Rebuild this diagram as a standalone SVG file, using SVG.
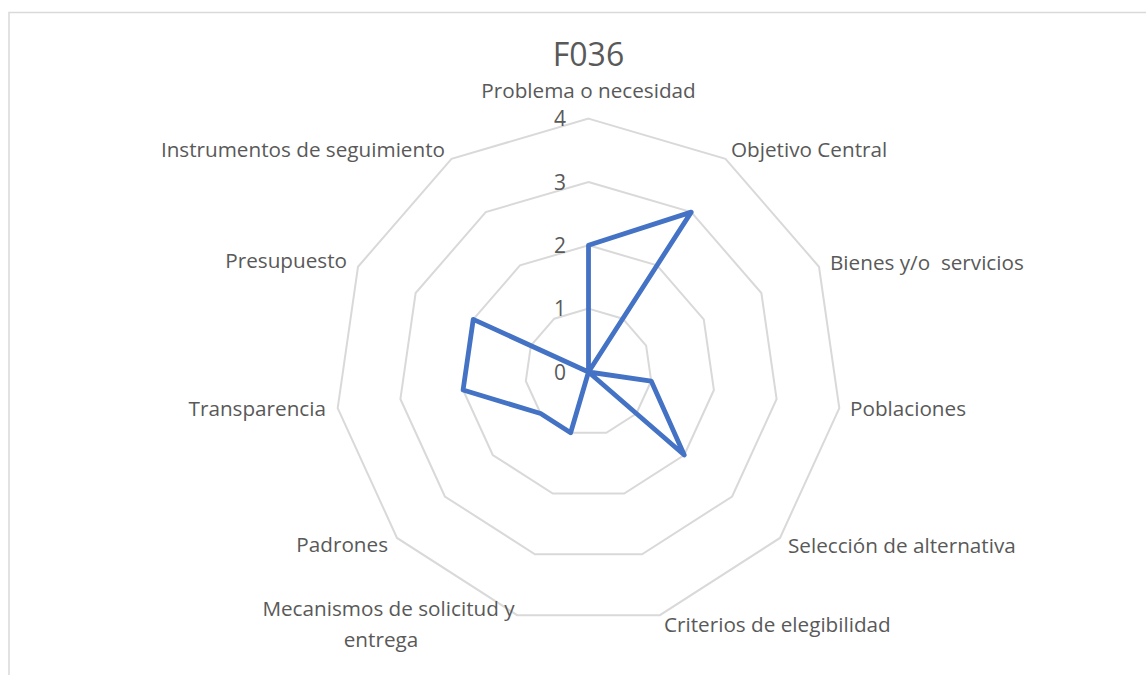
<svg xmlns="http://www.w3.org/2000/svg" width="1146" height="675" viewBox="0 0 1146 675">
<style>
.grid{fill:none;stroke:#d9d9d9;stroke-width:2}
.lbl{font-family:"Open Sans","Liberation Sans",sans-serif;font-size:20.7px;fill:#595959}
.tick{font-family:"Open Sans","Liberation Sans",sans-serif;font-size:21px;fill:#595959;text-anchor:end}
.mid{text-anchor:middle}
.end{text-anchor:end}
.data{fill:none;stroke:#4472c4;stroke-width:4.8;stroke-linejoin:round;stroke-linecap:round}
</style>
<rect x="0" y="0" width="1146" height="675" fill="#ffffff"/>
<rect x="9" y="12.5" width="1150" height="680" fill="none" stroke="#d9d9d9" stroke-width="1.5"/>
<text id="title" class="lbl mid" x="588.5" y="66" style="font-size:32px">F036</text>
<g id="grid">
<polygon class="grid" points="588.5,308.65 622.75,318.70 646.12,345.68 651.20,381.01 636.37,413.49 606.35,432.78 570.65,432.78 540.63,413.49 525.80,381.01 530.88,345.68 554.25,318.70"/>
<polygon class="grid" points="588.5,245.3 656.99,265.41 703.75,319.37 713.91,390.03 684.25,454.98 624.19,493.57 552.81,493.57 492.75,454.98 463.09,390.03 473.25,319.37 520.01,265.41"/>
<polygon class="grid" points="588.5,181.95 691.24,212.11 761.37,293.05 776.61,399.04 732.12,496.47 642.04,554.35 534.96,554.35 444.88,496.47 400.39,399.04 415.63,293.05 485.76,212.11"/>
<polygon class="grid" points="588.5,118.6 725.49,158.81 818.99,266.74 839.31,408.06 779.99,537.95 659.88,615.13 517.12,615.13 397.01,537.95 337.69,408.06 358.01,266.74 451.51,158.81"/>
</g>
<g id="ticks">
<text class="tick" x="566" y="126">4</text>
<text class="tick" x="566" y="189.5">3</text>
<text class="tick" x="566" y="252.8">2</text>
<text class="tick" x="566" y="316.2">1</text>
<text class="tick" x="566" y="379.5">0</text>
</g>
<g id="connectors">
<polygon class="data" points="588.5,245.3 691.24,212.11 588.5,372 651.20,381.01 684.25,454.98 588.5,372 570.65,432.78 540.63,413.49 463.09,390.03 473.25,319.37 588.5,372"/>
</g>
<g id="axis-problema"><text class="lbl mid" x="588.5" y="98">Problema o necesidad</text></g>
<g id="axis-objetivo"><text class="lbl" x="731" y="157">Objetivo Central</text></g>
<g id="axis-bienes"><text class="lbl" x="830" y="270" xml:space="preserve">Bienes y/o  servicios</text></g>
<g id="axis-poblaciones"><text class="lbl" x="850" y="416">Poblaciones</text></g>
<g id="axis-seleccion"><text class="lbl" x="788" y="553">Selección de alternativa</text></g>
<g id="axis-criterios"><text class="lbl" x="664" y="632">Criterios de elegibilidad</text></g>
<g id="axis-mecanismos"><text class="lbl mid" x="388.5" y="616">Mecanismos de solicitud y</text><text class="lbl mid" x="381" y="647">entrega</text></g>
<g id="axis-padrones"><text class="lbl end" x="388" y="552">Padrones</text></g>
<g id="axis-transparencia"><text class="lbl end" x="326" y="416">Transparencia</text></g>
<g id="axis-presupuesto"><text class="lbl end" x="347" y="268">Presupuesto</text></g>
<g id="axis-instrumentos"><text class="lbl end" x="445" y="157">Instrumentos de seguimiento</text></g>
</svg>
